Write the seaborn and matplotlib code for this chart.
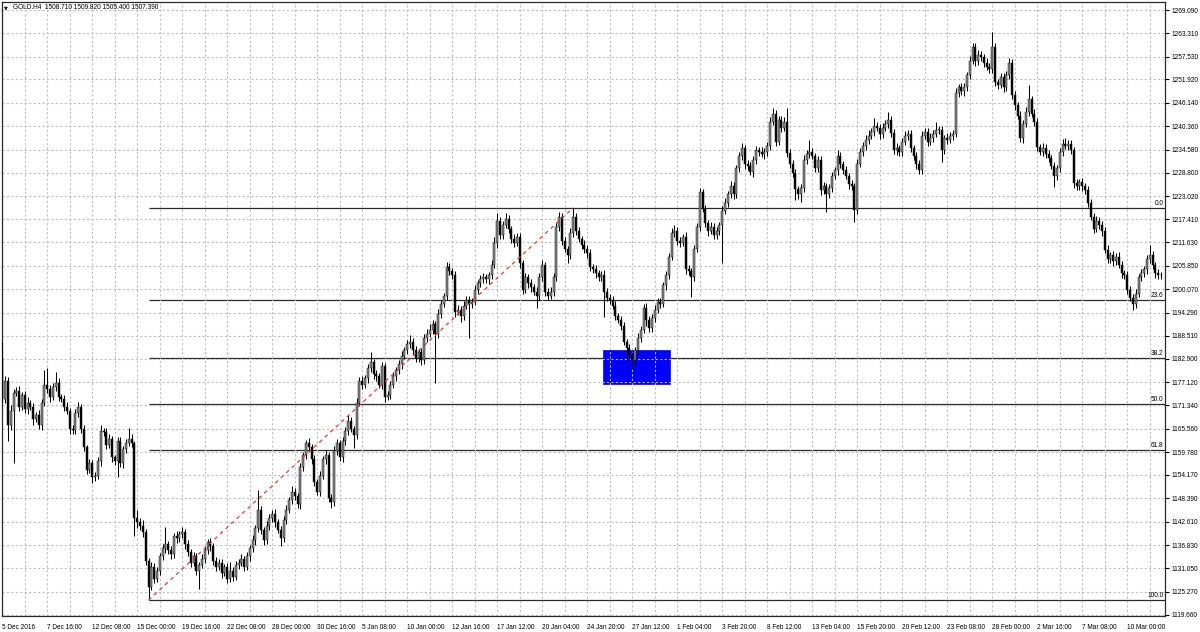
import numpy as np
import pandas as pd
import matplotlib
matplotlib.use("Agg")
import matplotlib.pyplot as plt
import seaborn as sns
from matplotlib.patches import Rectangle

# ---------------- data ----------------
title_text = "GOLD.H4  1508.710 1509.820 1505.400 1507.390"
first_open = 1183.0

close = [
    1173, 1177.5, 1166.5, 1170, 1174.5, 1175, 1171, 1174, 1170.5, 1172, 1171, 1168, 1169, 1166.5, 1172, 1176.5, 1175.5, 1173.5, 1176, 1177,
    1173.5, 1173, 1171, 1170, 1165.5, 1165.3, 1169.5, 1171, 1165.5, 1161, 1155.5, 1157, 1153.7, 1154, 1157.5, 1165, 1164.8, 1161.5, 1163, 1158.5,
    1157.5, 1162.5, 1157, 1160.5, 1162, 1163, 1162, 1143.5, 1142.5, 1141.5, 1140, 1133, 1126.5, 1131.5, 1128.5, 1130.5, 1134, 1136, 1137, 1135.5,
    1134.5, 1139, 1138.5, 1139.5, 1140, 1137, 1135, 1132.5, 1134, 1130.5, 1132, 1133.5, 1135.5, 1137.5, 1136.5, 1132.8, 1131.5, 1132.5, 1130, 1131.5,
    1128.5, 1130.5, 1129, 1132, 1132.5, 1133.5, 1131.5, 1134, 1136, 1138, 1141, 1145.5, 1140.5, 1138, 1141.5, 1143.5, 1144.5, 1142.5, 1140.5, 1138.5,
    1143, 1145.5, 1148, 1150, 1149, 1147, 1156, 1159, 1162, 1161, 1158, 1152.5, 1150, 1154, 1158, 1159, 1148.5, 1147.5, 1160, 1162,
    1158.5, 1162.5, 1165, 1167.5, 1165.5, 1164, 1172, 1177.5, 1176.5, 1178, 1180.5, 1182, 1179, 1178.5, 1176.5, 1181, 1173.5, 1174, 1176.5, 1178.5,
    1180, 1181.5, 1183.5, 1185, 1186.5, 1187, 1185, 1183, 1184.5, 1182.5, 1188, 1189, 1190, 1191.5, 1189, 1194, 1196.5, 1198.5, 1205.5, 1204.5,
    1203.5, 1194.5, 1195, 1193.5, 1196, 1197.5, 1196.5, 1197, 1200, 1201.5, 1202.5, 1203, 1202.5, 1203.5, 1206, 1211.5, 1217, 1213.5, 1216, 1217.5,
    1215, 1212.5, 1211.5, 1213, 1206.5, 1200, 1203, 1201.5, 1200.5, 1199.5, 1198.5, 1203, 1206, 1199.5, 1198.5, 1199.5, 1203, 1215.5, 1218, 1212,
    1210, 1208.5, 1214, 1218, 1214.5, 1212.5, 1211, 1210, 1209, 1205.5, 1205, 1204, 1203, 1203.5, 1199.5, 1198, 1197.5, 1196, 1193.5, 1192.5,
    1191, 1187, 1185.5, 1183.5, 1182.5, 1185, 1188, 1190, 1195.5, 1192.5, 1190.5, 1193, 1195, 1197, 1196.5, 1201, 1203.5, 1208, 1214, 1214.5,
    1212, 1211.5, 1213, 1205, 1204.5, 1203, 1210, 1215.5, 1224, 1220, 1216.5, 1214.5, 1215.5, 1213.5, 1214.5, 1216, 1219.5, 1221.5, 1223.5, 1225.5,
    1223.5, 1230, 1233, 1235, 1231, 1230.5, 1229, 1232, 1234.5, 1234, 1233.5, 1234, 1235.5, 1241.5, 1243.5, 1236.5, 1242, 1240, 1241.5, 1233.8,
    1231, 1228.8, 1224.8, 1223.5, 1225, 1232, 1233.5, 1234, 1233, 1230, 1232, 1224.6, 1225.5, 1223.5, 1225, 1228, 1229.5, 1233, 1231, 1229.5,
    1228, 1226, 1225.5, 1219.7, 1231, 1234, 1235.5, 1237, 1238, 1239, 1240.5, 1240, 1238.5, 1240, 1241, 1242, 1238.7, 1234.5, 1235, 1234,
    1236.5, 1238, 1238.5, 1235, 1233, 1231, 1229.5, 1238, 1239, 1236.5, 1237.5, 1238.5, 1239.5, 1239.5, 1234.5, 1237.5, 1237, 1238, 1238.5, 1248.5,
    1250, 1249, 1250, 1253, 1256.5, 1260, 1256.5, 1258, 1257.5, 1256, 1255, 1254.5, 1260, 1251.3, 1250.5, 1252.5, 1250, 1253, 1256, 1248,
    1245.5, 1243, 1237.5, 1241, 1244, 1247, 1243.5, 1241.5, 1235.2, 1234, 1235, 1233.5, 1232.5, 1230.5, 1228, 1230, 1234, 1236, 1235.5, 1236,
    1234.5, 1226.3, 1225.5, 1226.5, 1225.5, 1224.5, 1221.5, 1218, 1215, 1217, 1216, 1214.5, 1209.8, 1207.5, 1208.5, 1207, 1208, 1206, 1204, 1203.5,
    1200, 1198, 1196.5, 1199, 1203, 1204, 1205, 1207.5, 1208.5, 1206, 1204, 1203.5, 1203.5,
]

upper_wick = [
    4.0, 1.2, 0.8, 1.5, 1.0, 0.8, 1.2, 0.6, 1.0, 1.4, 0.8, 1.0, 0.7, 1.2, 0.9, 3.5, 4.0, 0.8, 1.0, 2.5,
    1.0, 0.7, 0.9, 1.2, 0.8, 1.1, 0.9, 1.3, 0.8, 1.0, 0.6, 1.2, 0.8, 0.9, 1.1, 1.5, 0.8, 1.0, 1.2, 0.9,
    0.7, 1.0, 1.1, 0.8, 1.0, 2.8, 1.2, 0.5, 2.0, 1.0, 1.5, 0.8, 0.7, 1.2, 0.9, 1.0, 0.8, 1.1, 4.4, 0.9,
    1.0, 0.8, 1.2, 0.9, 1.3, 0.7, 1.0, 0.8, 1.1, 0.9, 0.7, 1.0, 1.2, 0.8, 1.0, 0.9, 1.1, 0.8, 1.0, 0.7,
    1.0, 2.2, 0.9, 1.0, 0.8, 1.1, 0.7, 1.0, 0.9, 1.2, 0.8, 5.0, 1.0, 0.8, 1.2, 0.9, 1.1, 1.3, 0.8, 1.0,
    0.9, 1.2, 0.8, 1.5, 1.0, 0.7, 1.0, 0.9, 0.9, 1.2, 0.8, 1.0, 0.7, 1.1, 0.9, 1.3, 0.8, 1.0, 1.2, 1.0,
    0.8, 1.0, 0.9, 1.4, 1.0, 0.8, 1.1, 0.9, 1.2, 0.8, 1.0, 2.6, 0.9, 1.0, 0.8, 1.2, 0.9, 1.0, 0.8, 1.1,
    0.9, 1.0, 1.2, 0.8, 1.0, 1.8, 0.9, 1.1, 0.8, 1.0, 0.9, 1.2, 1.5, 1.0, 0.8, 1.1, 0.9, 0.7, 1.3, 1.0,
    0.8, 1.0, 1.2, 0.9, 1.1, 0.8, 1.0, 0.9, 1.2, 0.8, 1.0, 1.1, 0.9, 0.8, 1.2, 1.5, 2.0, 1.0, 0.9, 1.3,
    1.0, 0.8, 1.1, 0.9, 1.0, 0.8, 1.2, 0.9, 1.0, 0.8, 1.1, 1.0, 1.4, 0.9, 0.8, 1.0, 1.2, 1.3, 1.2, 0.9,
    1.0, 0.8, 1.1, 2.2, 0.9, 1.0, 0.8, 1.2, 0.9, 1.0, 0.8, 1.1, 0.9, 1.0, 1.2, 0.8, 1.0, 0.9, 1.1, 0.8,
    1.0, 0.9, 0.8, 1.1, 1.0, 0.9, 1.2, 1.0, 0.8, 1.1, 0.9, 1.0, 1.2, 0.8, 1.0, 0.9, 1.1, 1.0, 1.3, 1.5,
    0.9, 1.0, 0.8, 1.2, 1.0, 0.9, 1.1, 1.0, 1.1, 0.9, 1.0, 0.8, 1.2, 0.9, 1.0, 0.8, 1.1, 1.0, 0.9, 1.2,
    1.0, 0.9, 1.1, 1.2, 0.8, 1.0, 0.9, 1.1, 1.0, 0.8, 1.2, 0.9, 1.0, 1.1, 1.4, 0.9, 1.0, 0.8, 1.2, 3.4,
    1.0, 0.9, 1.1, 0.8, 1.0, 1.2, 0.9, 3.0, 1.0, 0.8, 1.1, 0.9, 1.0, 0.8, 1.2, 1.0, 0.9, 1.5, 1.0, 0.8,
    1.1, 0.9, 1.0, 0.8, 1.2, 1.0, 0.9, 1.1, 1.5, 1.0, 1.9, 0.9, 1.0, 1.1, 0.8, 2.0, 1.0, 0.9, 1.1, 0.8,
    1.0, 1.2, 0.9, 1.0, 0.8, 1.1, 0.9, 1.2, 1.0, 0.8, 1.1, 1.0, 2.0, 0.9, 1.0, 0.8, 1.1, 0.9, 1.0, 1.2,
    0.9, 1.0, 1.1, 0.8, 1.2, 1.0, 0.9, 1.1, 1.0, 0.8, 1.2, 0.9, 3.7, 1.0, 0.8, 1.1, 0.9, 1.0, 1.2, 0.9,
    1.0, 0.8, 1.1, 0.9, 1.0, 3.5, 0.9, 1.1, 1.0, 0.8, 1.2, 0.9, 1.0, 0.8, 1.1, 0.9, 1.0, 1.2, 1.5, 0.9,
    1.0, 0.8, 1.1, 0.9, 1.0, 0.8, 1.2, 0.9, 1.0, 1.1, 0.8, 1.0, 0.9, 1.1, 0.8, 1.0, 0.9, 1.2, 1.0, 0.8,
    1.1, 0.9, 1.0, 1.2, 0.8, 1.0, 0.9, 1.1, 2.5, 1.0, 0.9, 1.1, 0.8,
]

lower_wick = [
    0.8, 1.0, 4.0, 1.2, 12.8, 0.9, 1.1, 0.8, 1.0, 1.2, 0.9, 1.4, 0.8, 1.0, 1.2, 0.9, 1.0, 1.3, 0.8, 1.0,
    1.1, 0.9, 1.0, 0.8, 1.2, 1.0, 0.9, 1.1, 1.0, 0.8, 1.2, 0.9, 1.5, 1.0, 0.8, 1.1, 0.9, 1.0, 0.8, 1.2,
    1.0, 3.8, 0.9, 1.1, 1.0, 0.8, 1.0, 4.5, 1.5, 0.9, 1.2, 1.0, 3.3, 0.8, 1.1, 0.9, 1.0, 0.8, 1.2, 0.9,
    1.0, 0.8, 1.1, 0.9, 1.0, 1.2, 0.8, 1.0, 0.9, 1.1, 4.5, 0.9, 1.0, 0.8, 1.1, 0.9, 1.0, 0.8, 1.2, 0.9,
    1.0, 0.8, 1.1, 0.9, 1.0, 0.8, 1.2, 0.9, 1.0, 0.8, 1.1, 0.9, 1.0, 1.2, 0.8, 1.0, 0.9, 1.1, 0.8, 2.0,
    1.0, 0.9, 0.8, 1.1, 1.0, 0.9, 1.2, 0.8, 1.0, 0.9, 1.1, 1.0, 0.8, 1.0, 0.9, 1.2, 1.0, 1.5, 0.9, 1.0,
    0.8, 1.1, 0.9, 1.0, 0.8, 3.1, 1.0, 0.9, 1.1, 0.8, 1.0, 0.9, 1.2, 1.0, 0.8, 1.1, 1.2, 0.9, 1.0, 0.8,
    1.0, 0.9, 1.1, 0.8, 1.0, 0.9, 1.2, 1.0, 0.8, 1.1, 0.9, 1.0, 0.8, 1.1, 12.0, 0.9, 1.0, 0.8, 1.2, 0.9,
    1.0, 1.2, 0.9, 1.5, 1.0, 0.8, 8.5, 1.0, 0.9, 1.1, 0.8, 1.0, 0.9, 1.1, 1.0, 0.8, 1.2, 0.9, 1.0, 0.8,
    1.1, 0.9, 1.0, 0.8, 1.2, 1.0, 0.9, 1.1, 1.0, 0.8, 3.0, 1.0, 0.9, 1.1, 1.2, 0.8, 1.0, 0.9, 1.1, 1.0,
    0.8, 2.0, 1.0, 0.9, 1.1, 0.8, 1.0, 0.9, 1.2, 1.0, 0.8, 1.1, 0.9, 1.0, 6.2, 0.9, 1.0, 0.8, 1.1, 0.9,
    1.0, 0.8, 1.1, 0.9, 1.8, 1.0, 0.9, 1.1, 0.8, 1.5, 1.0, 0.9, 1.1, 0.8, 1.0, 0.9, 1.2, 1.0, 0.8, 1.1,
    0.9, 1.0, 0.8, 1.1, 0.9, 4.8, 1.0, 0.8, 1.1, 0.9, 1.0, 1.2, 0.8, 1.0, 0.9, 1.1, 9.4, 0.8, 1.0, 0.9,
    1.1, 0.8, 1.0, 0.9, 1.2, 1.0, 0.8, 1.1, 0.9, 1.0, 0.8, 1.2, 0.9, 1.0, 0.8, 1.1, 0.9, 1.0, 0.8, 1.1,
    0.9, 1.0, 2.6, 1.1, 1.8, 1.0, 0.9, 1.1, 0.8, 1.0, 0.9, 1.2, 1.0, 4.3, 0.9, 1.0, 0.8, 1.1, 0.9, 1.0,
    0.8, 1.1, 0.9, 3.0, 1.0, 0.8, 1.1, 0.9, 1.0, 0.8, 1.1, 0.9, 1.2, 1.0, 0.8, 1.1, 0.9, 1.0, 1.2, 0.9,
    1.0, 0.8, 1.1, 0.9, 1.0, 1.2, 0.9, 1.0, 0.8, 1.1, 0.9, 1.0, 0.8, 1.1, 3.0, 0.9, 1.0, 0.8, 1.1, 0.9,
    1.0, 0.8, 1.1, 0.9, 1.0, 0.8, 1.2, 0.9, 1.0, 1.1, 0.8, 1.0, 0.9, 1.1, 1.0, 0.8, 1.2, 0.9, 1.0, 0.8,
    1.1, 0.9, 1.0, 1.2, 0.8, 1.0, 0.9, 1.1, 1.0, 0.8, 1.1, 0.9, 1.0, 0.8, 2.6, 0.9, 1.0, 1.1, 0.8, 1.0,
    0.9, 1.1, 1.0, 0.8, 1.2, 0.9, 1.0, 0.8, 1.1, 0.9, 1.0, 1.2, 0.8, 1.0, 0.9, 1.1, 1.0, 0.8, 1.2, 0.9,
    1.0, 0.8, 1.5, 1.1, 0.9, 1.0, 0.8, 1.1, 0.9, 1.0, 1.2, 0.8, 1.0,
]

date_labels = [
    "5 Dec 2016", "7 Dec 16:00", "12 Dec 08:00", "15 Dec 00:00", "19 Dec 16:00", "22 Dec 08:00",
    "28 Dec 00:00", "30 Dec 16:00", "5 Jan 08:00", "10 Jan 00:00", "12 Jan 16:00", "17 Jan 12:00",
    "20 Jan 04:00", "24 Jan 20:00", "27 Jan 12:00", "1 Feb 04:00", "3 Feb 20:00", "8 Feb 12:00",
    "13 Feb 04:00", "15 Feb 20:00", "20 Feb 12:00", "23 Feb 08:00", "28 Feb 00:00", "2 Mar 16:00",
    "7 Mar 08:00", "10 Mar 00:00",
]
bars_per_label = 16
bars_per_grid = 8

price_ticks = [1269.090, 1263.310, 1257.530, 1251.920, 1246.140, 1240.360, 1234.580, 1228.800,
               1223.020, 1217.410, 1211.630, 1205.850, 1200.070, 1194.290, 1188.510, 1182.900,
               1177.120, 1171.340, 1165.560, 1159.780, 1154.170, 1148.390, 1142.610, 1136.830,
               1131.050, 1125.270, 1119.660]

fib_low = 1123.2
fib_high = 1220.2
fib_levels = [0.0, 23.6, 38.2, 50.0, 61.8, 100.0]
fib_start_bar = 52
fib_end_bar = 203

zone_bar_left, zone_bar_right = 213.7, 237.5
zone_price_low, zone_price_high = 1176.7, 1185.1

# ---------------- build OHLC frame ----------------
close_arr = np.array(close, dtype=float)
n = len(close_arr)
open_arr = np.concatenate([[first_open], close_arr[:-1]])
high_arr = np.maximum(open_arr, close_arr) + np.array(upper_wick, dtype=float)
low_arr = np.minimum(open_arr, close_arr) - np.array(lower_wick, dtype=float)
df = pd.DataFrame({"bar": np.arange(n), "open": open_arr, "close": close_arr,
                   "high": high_arr, "low": low_arr})
df["up"] = df["close"] >= df["open"]

# ---------------- style ----------------
sns.set_style("white")
plt.rcParams["font.family"] = ["Liberation Sans", "DejaVu Sans"]
FS = 4.7

W, H = 1200, 632
fig = plt.figure(figsize=(W / 100, H / 100), dpi=100)
left_px, right_px, top_px, bottom_px = 2, 1165, 2, 616
ax = fig.add_axes([left_px / W, 1 - bottom_px / H, (right_px - left_px) / W, (bottom_px - top_px) / H])

px_per_bar = 2.8125
x0 = -0.1
x1 = x0 + (right_px - left_px) / px_per_bar
ax.set_xlim(x0, x1)
ax.set_ylim(1119.29, 1271.07)

# grid (dotted, drawn above the zone rectangle, below candles)
grid_kw = dict(color="#c0c0c0", lw=0.8, ls=(0, (2, 2)), zorder=2.5)
for p in price_ticks:
    ax.axhline(p, **grid_kw)
for b in range(0, n + bars_per_grid, bars_per_grid):
    ax.axvline(b, **grid_kw)

# Fibonacci levels
fib_range = fib_high - fib_low
for lvl in fib_levels:
    price = fib_high - lvl / 100.0 * fib_range
    ax.hlines(price, fib_start_bar, x1, color="#2a2a2a", lw=0.9, zorder=1.5)
    ax.text(x1 - 0.6, price + 0.25, f"{lvl:.1f}", ha="right", va="bottom",
            fontsize=FS, color="#000000", zorder=6)

# blue zone
ax.add_patch(Rectangle((zone_bar_left, zone_price_low), zone_bar_right - zone_bar_left,
                       zone_price_high - zone_price_low, facecolor="#0000ff",
                       edgecolor="#0000ff", lw=0.5, zorder=2))

# candles
ax.vlines(df["bar"], df["low"], df["high"], color="#000000", lw=0.75, zorder=4)
body_bottom = np.minimum(df["open"], df["close"])
body_height = np.maximum(np.abs(df["close"] - df["open"]), 0.12)
body_colors = np.where(df["up"], "#858585", "#000000")
ax.bar(df["bar"], body_height, bottom=body_bottom, width=0.72, color=body_colors,
       edgecolor="#1a1a1a", linewidth=0.35, zorder=5)

# Fibonacci trend line (red dashed)
trend = pd.DataFrame({"bar": [fib_start_bar, fib_end_bar], "price": [fib_low, fib_high]})
sns.lineplot(data=trend, x="bar", y="price", ax=ax, color="#e03c3c", lw=0.9,
             linestyle=(0, (3, 3)), zorder=6)

# axes / ticks
ax.set_xlabel("")
ax.set_ylabel("")
label_pos = [i * bars_per_label for i in range(len(date_labels))]
ax.set_xticks(label_pos)
ax.set_xticklabels(date_labels)
for lab in ax.get_xticklabels():
    lab.set_horizontalalignment("left")
ax.yaxis.tick_right()
ax.set_yticks(price_ticks)
ax.set_yticklabels([f"{p:.3f}" for p in price_ticks])
ax.tick_params(axis="x", direction="out", length=4, width=0.8, color="#000000",
               labelsize=FS, pad=1.5, labelcolor="#000000")
ax.tick_params(axis="y", direction="out", length=3, width=0.8, color="#000000",
               labelsize=FS, pad=2, labelcolor="#000000", right=True, left=False)
for s in ax.spines.values():
    s.set_visible(True)
    s.set_color("#2a2a2a")
    s.set_linewidth(0.9)
ax.grid(False)

# header
fig.text(4 / W, 1 - 7.5 / H, "\u25bc", fontsize=3.6, family="DejaVu Sans",
         ha="left", va="center", color="#000000")
fig.text(13 / W, 1 - 7.5 / H, title_text, fontsize=FS, ha="left", va="center", color="#000000")

fig.savefig("out.png", dpi=100, facecolor="white")
